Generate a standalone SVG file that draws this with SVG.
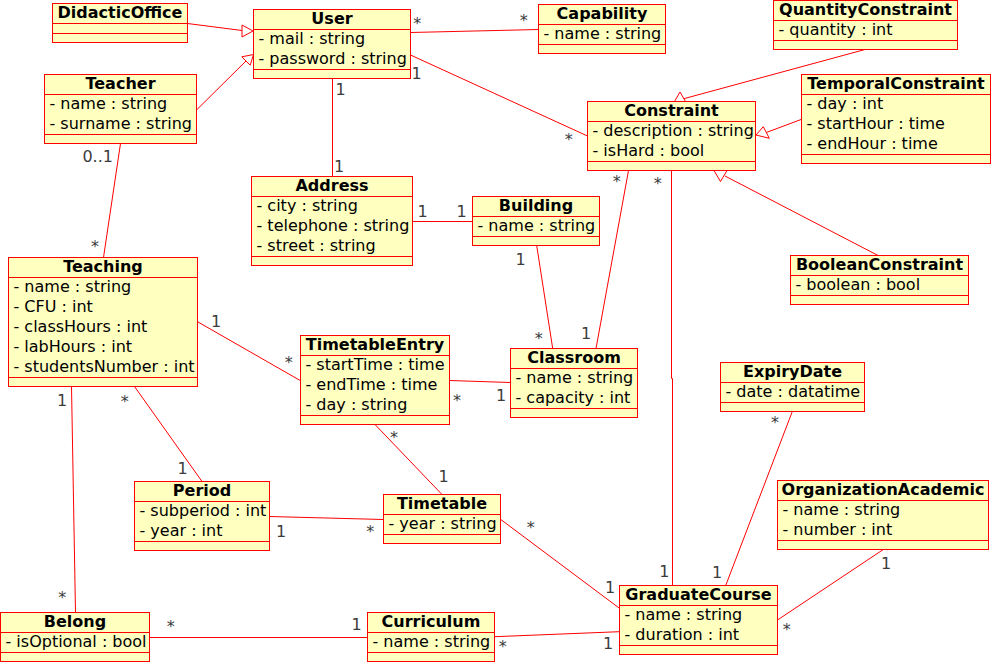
<svg xmlns="http://www.w3.org/2000/svg" width="992" height="662" viewBox="0 0 992 662">
<style>
  .box rect { fill: #ffffc0; stroke: #ff0000; stroke-width: 1; }
  .box line { stroke: #ff0000; stroke-width: 1; }
  .title { font-family: "DejaVu Sans", "Liberation Sans", sans-serif; font-size: 16px; font-weight: bold; fill: #000; text-anchor: middle; }
  .attr { font-family: "DejaVu Sans", "Liberation Sans", sans-serif; font-size: 16px; fill: #000; }
  .conn line, .conn polyline { stroke: #ff0000; stroke-width: 1; fill: none; }
  .conn polygon { fill: #ffffff; stroke: #ff0000; stroke-width: 1; }
  .m { font-family: "DejaVu Sans", "Liberation Sans", sans-serif; font-size: 16px; fill: #3c3c3c; text-anchor: middle; }
</style>
<rect width="992" height="662" fill="#ffffff"/>

<g id="connectors" class="conn">
  <!-- generalizations -->
  <line x1="187.5" y1="23.5" x2="242" y2="30.5"/>
  <polygon points="253,31 242,25 242,37"/>
  <line x1="196.5" y1="110" x2="246" y2="61"/>
  <polygon points="253.5,54.5 241.8,56.8 250.2,65.2"/>
  <line x1="865" y1="49.5" x2="679" y2="100"/>
  <polygon points="674.5,101.5 685.5,101.5 680,92"/>
  <line x1="801" y1="119.5" x2="766.3" y2="132.5"/>
  <polygon points="756,135 763.3,126.7 769.3,138.3"/>
  <line x1="879" y1="256" x2="725" y2="176"/>
  <polygon points="714,170.5 727,170.5 720.5,181.5"/>
  <!-- associations -->
  <line x1="410.5" y1="32.5" x2="538.5" y2="29.5"/>
  <line x1="410.5" y1="55" x2="587.5" y2="136"/>
  <line x1="332.5" y1="78.5" x2="332.5" y2="176.5"/>
  <line x1="120.5" y1="143.5" x2="103.5" y2="257.5"/>
  <line x1="628.5" y1="170.5" x2="596" y2="348.5"/>
  <polyline points="671.5,170.5 671.5,378.5 672.5,378.5 672.5,585.5"/>
  <line x1="412.5" y1="221.5" x2="472.5" y2="221.5"/>
  <line x1="536.7" y1="245.5" x2="552.7" y2="348.5"/>
  <line x1="197.5" y1="321.7" x2="300.5" y2="380.7"/>
  <line x1="449.5" y1="380.5" x2="510.5" y2="382.5"/>
  <line x1="71.5" y1="386.5" x2="75.5" y2="612.5"/>
  <line x1="134.5" y1="386.5" x2="202" y2="481.5"/>
  <line x1="375" y1="424.5" x2="442" y2="494.5"/>
  <line x1="269.5" y1="516.5" x2="383.5" y2="519.5"/>
  <line x1="500.5" y1="519.3" x2="619.5" y2="608.3"/>
  <line x1="149.5" y1="637.5" x2="367.5" y2="637.5"/>
  <line x1="494.5" y1="636.7" x2="619.5" y2="631.7"/>
  <line x1="792.3" y1="411.5" x2="725.7" y2="585.5"/>
  <line x1="883.3" y1="549.5" x2="777.5" y2="620"/>
</g>

<g id="multiplicities">
  <text class="m" x="417.3" y="29.1">*</text>
  <text class="m" x="523.8" y="25.7">*</text>
  <text class="m" x="416.7" y="79">1</text>
  <text class="m" x="568.7" y="145.1">*</text>
  <text class="m" x="340.7" y="95">1</text>
  <text class="m" x="339" y="171.5">1</text>
  <text class="m" x="97.7" y="162">0..1</text>
  <text class="m" x="95" y="252.4">*</text>
  <text class="m" x="616.7" y="187.4">*</text>
  <text class="m" x="586" y="339.3">1</text>
  <text class="m" x="657.7" y="189.4">*</text>
  <text class="m" x="664.3" y="576.7">1</text>
  <text class="m" x="422.7" y="217.3">1</text>
  <text class="m" x="461.7" y="217">1</text>
  <text class="m" x="520.7" y="265">1</text>
  <text class="m" x="538.7" y="344.1">*</text>
  <text class="m" x="216" y="326.7">1</text>
  <text class="m" x="288.7" y="367.7">*</text>
  <text class="m" x="457" y="406.1">*</text>
  <text class="m" x="501" y="400.5">1</text>
  <text class="m" x="62" y="405.7">1</text>
  <text class="m" x="62.3" y="603.4">*</text>
  <text class="m" x="124.7" y="406.7">*</text>
  <text class="m" x="182.7" y="474">1</text>
  <text class="m" x="394" y="443.4">*</text>
  <text class="m" x="443.7" y="482.3">1</text>
  <text class="m" x="281" y="537.3">1</text>
  <text class="m" x="370.3" y="536.7">*</text>
  <text class="m" x="530.7" y="533.4">*</text>
  <text class="m" x="610" y="593.3">1</text>
  <text class="m" x="170.7" y="632.4">*</text>
  <text class="m" x="356.7" y="630">1</text>
  <text class="m" x="502.7" y="652.4">*</text>
  <text class="m" x="608" y="649.3">1</text>
  <text class="m" x="775" y="428.4">*</text>
  <text class="m" x="717" y="577.7">1</text>
  <text class="m" x="886" y="568.7">1</text>
  <text class="m" x="786.7" y="635.1">*</text>
</g>

<g id="DidacticOffice" class="box">
  <rect x="52.5" y="3.5" width="135" height="39"/>
  <line x1="52.5" y1="23.5" x2="187.5" y2="23.5"/>
  <line x1="52.5" y1="33.5" x2="187.5" y2="33.5"/>
  <text class="title" x="120" y="17.5">DidacticOffice</text>
</g>

<g id="User" class="box">
  <rect x="253.5" y="9.5" width="157" height="69"/>
  <line x1="253.5" y1="29.5" x2="410.5" y2="29.5"/>
  <line x1="253.5" y1="69.5" x2="410.5" y2="69.5"/>
  <text class="title" x="332" y="23.5">User</text>
  <text class="attr" x="258.5" y="43.5">- mail : string</text>
  <text class="attr" x="258.5" y="63.5">- password : string</text>
</g>

<g id="Capability" class="box">
  <rect x="538.5" y="4.5" width="127" height="49"/>
  <line x1="538.5" y1="24.5" x2="665.5" y2="24.5"/>
  <line x1="538.5" y1="44.5" x2="665.5" y2="44.5"/>
  <text class="title" x="602" y="18.5">Capability</text>
  <text class="attr" x="543.5" y="38.5">- name : string</text>
</g>

<g id="QuantityConstraint" class="box">
  <rect x="773.5" y="0.5" width="184" height="49"/>
  <line x1="773.5" y1="20.5" x2="957.5" y2="20.5"/>
  <line x1="773.5" y1="40.5" x2="957.5" y2="40.5"/>
  <text class="title" x="865.5" y="14.5">QuantityConstraint</text>
  <text class="attr" x="778.5" y="34.5">- quantity : int</text>
</g>

<g id="TemporalConstraint" class="box">
  <rect x="801.5" y="74.5" width="189" height="89"/>
  <line x1="801.5" y1="94.5" x2="990.5" y2="94.5"/>
  <line x1="801.5" y1="154.5" x2="990.5" y2="154.5"/>
  <text class="title" x="896" y="88.5">TemporalConstraint</text>
  <text class="attr" x="806.5" y="108.5">- day : int</text>
  <text class="attr" x="806.5" y="128.5">- startHour : time</text>
  <text class="attr" x="806.5" y="148.5">- endHour : time</text>
</g>

<g id="Constraint" class="box">
  <rect x="587.5" y="101.5" width="168" height="69"/>
  <line x1="587.5" y1="121.5" x2="755.5" y2="121.5"/>
  <line x1="587.5" y1="161.5" x2="755.5" y2="161.5"/>
  <text class="title" x="671.5" y="115.5">Constraint</text>
  <text class="attr" x="592.5" y="135.5">- description : string</text>
  <text class="attr" x="592.5" y="155.5">- isHard : bool</text>
</g>

<g id="Teacher" class="box">
  <rect x="44.5" y="74.5" width="152" height="69"/>
  <line x1="44.5" y1="94.5" x2="196.5" y2="94.5"/>
  <line x1="44.5" y1="134.5" x2="196.5" y2="134.5"/>
  <text class="title" x="120.5" y="88.5">Teacher</text>
  <text class="attr" x="49.5" y="108.5">- name : string</text>
  <text class="attr" x="49.5" y="128.5">- surname : string</text>
</g>

<g id="Address" class="box">
  <rect x="251.5" y="176.5" width="161" height="89"/>
  <line x1="251.5" y1="196.5" x2="412.5" y2="196.5"/>
  <line x1="251.5" y1="256.5" x2="412.5" y2="256.5"/>
  <text class="title" x="332" y="190.5">Address</text>
  <text class="attr" x="256.5" y="210.5">- city : string</text>
  <text class="attr" x="256.5" y="230.5">- telephone : string</text>
  <text class="attr" x="256.5" y="250.5">- street : string</text>
</g>

<g id="Building" class="box">
  <rect x="472.5" y="196.5" width="127" height="49"/>
  <line x1="472.5" y1="216.5" x2="599.5" y2="216.5"/>
  <line x1="472.5" y1="236.5" x2="599.5" y2="236.5"/>
  <text class="title" x="536" y="210.5">Building</text>
  <text class="attr" x="477.5" y="230.5">- name : string</text>
</g>

<g id="BooleanConstraint" class="box">
  <rect x="790.5" y="255.5" width="178" height="49"/>
  <line x1="790.5" y1="275.5" x2="968.5" y2="275.5"/>
  <line x1="790.5" y1="295.5" x2="968.5" y2="295.5"/>
  <text class="title" x="879.5" y="269.5">BooleanConstraint</text>
  <text class="attr" x="795.5" y="289.5">- boolean : bool</text>
</g>

<g id="Teaching" class="box">
  <rect x="8.5" y="257.5" width="189" height="129"/>
  <line x1="8.5" y1="277.5" x2="197.5" y2="277.5"/>
  <line x1="8.5" y1="377.5" x2="197.5" y2="377.5"/>
  <text class="title" x="103" y="271.5">Teaching</text>
  <text class="attr" x="13.5" y="291.5">- name : string</text>
  <text class="attr" x="13.5" y="311.5">- CFU : int</text>
  <text class="attr" x="13.5" y="331.5">- classHours : int</text>
  <text class="attr" x="13.5" y="351.5">- labHours : int</text>
  <text class="attr" x="13.5" y="371.5">- studentsNumber : int</text>
</g>

<g id="TimetableEntry" class="box">
  <rect x="300.5" y="335.5" width="149" height="89"/>
  <line x1="300.5" y1="355.5" x2="449.5" y2="355.5"/>
  <line x1="300.5" y1="415.5" x2="449.5" y2="415.5"/>
  <text class="title" x="375" y="349.5">TimetableEntry</text>
  <text class="attr" x="305.5" y="369.5">- startTime : time</text>
  <text class="attr" x="305.5" y="389.5">- endTime : time</text>
  <text class="attr" x="305.5" y="409.5">- day : string</text>
</g>

<g id="Classroom" class="box">
  <rect x="510.5" y="348.5" width="127" height="69"/>
  <line x1="510.5" y1="368.5" x2="637.5" y2="368.5"/>
  <line x1="510.5" y1="408.5" x2="637.5" y2="408.5"/>
  <text class="title" x="574" y="362.5">Classroom</text>
  <text class="attr" x="515.5" y="382.5">- name : string</text>
  <text class="attr" x="515.5" y="402.5">- capacity : int</text>
</g>

<g id="ExpiryDate" class="box">
  <rect x="720.5" y="362.5" width="144" height="49"/>
  <line x1="720.5" y1="382.5" x2="864.5" y2="382.5"/>
  <line x1="720.5" y1="402.5" x2="864.5" y2="402.5"/>
  <text class="title" x="792.5" y="376.5">ExpiryDate</text>
  <text class="attr" x="725.5" y="396.5">- date : datatime</text>
</g>

<g id="Period" class="box">
  <rect x="134.5" y="481.5" width="135" height="69"/>
  <line x1="134.5" y1="501.5" x2="269.5" y2="501.5"/>
  <line x1="134.5" y1="541.5" x2="269.5" y2="541.5"/>
  <text class="title" x="202" y="495.5">Period</text>
  <text class="attr" x="139.5" y="515.5">- subperiod : int</text>
  <text class="attr" x="139.5" y="535.5">- year : int</text>
</g>

<g id="Timetable" class="box">
  <rect x="383.5" y="494.5" width="117" height="49"/>
  <line x1="383.5" y1="514.5" x2="500.5" y2="514.5"/>
  <line x1="383.5" y1="534.5" x2="500.5" y2="534.5"/>
  <text class="title" x="442" y="508.5">Timetable</text>
  <text class="attr" x="388.5" y="528.5">- year : string</text>
</g>

<g id="OrganizationAcademic" class="box">
  <rect x="777.5" y="480.5" width="211" height="69"/>
  <line x1="777.5" y1="500.5" x2="988.5" y2="500.5"/>
  <line x1="777.5" y1="540.5" x2="988.5" y2="540.5"/>
  <text class="title" x="883" y="494.5">OrganizationAcademic</text>
  <text class="attr" x="782.5" y="514.5">- name : string</text>
  <text class="attr" x="782.5" y="534.5">- number : int</text>
</g>

<g id="GraduateCourse" class="box">
  <rect x="619.5" y="585.5" width="158" height="69"/>
  <line x1="619.5" y1="605.5" x2="777.5" y2="605.5"/>
  <line x1="619.5" y1="645.5" x2="777.5" y2="645.5"/>
  <text class="title" x="698.5" y="599.5">GraduateCourse</text>
  <text class="attr" x="624.5" y="619.5">- name : string</text>
  <text class="attr" x="624.5" y="639.5">- duration : int</text>
</g>

<g id="Belong" class="box">
  <rect x="0.5" y="612.5" width="149" height="49"/>
  <line x1="0.5" y1="632.5" x2="149.5" y2="632.5"/>
  <line x1="0.5" y1="652.5" x2="149.5" y2="652.5"/>
  <text class="title" x="75" y="626.5">Belong</text>
  <text class="attr" x="5.5" y="646.5">- isOptional : bool</text>
</g>

<g id="Curriculum" class="box">
  <rect x="367.5" y="612.5" width="127" height="49"/>
  <line x1="367.5" y1="632.5" x2="494.5" y2="632.5"/>
  <line x1="367.5" y1="652.5" x2="494.5" y2="652.5"/>
  <text class="title" x="431" y="626.5">Curriculum</text>
  <text class="attr" x="372.5" y="646.5">- name : string</text>
</g>
</svg>
